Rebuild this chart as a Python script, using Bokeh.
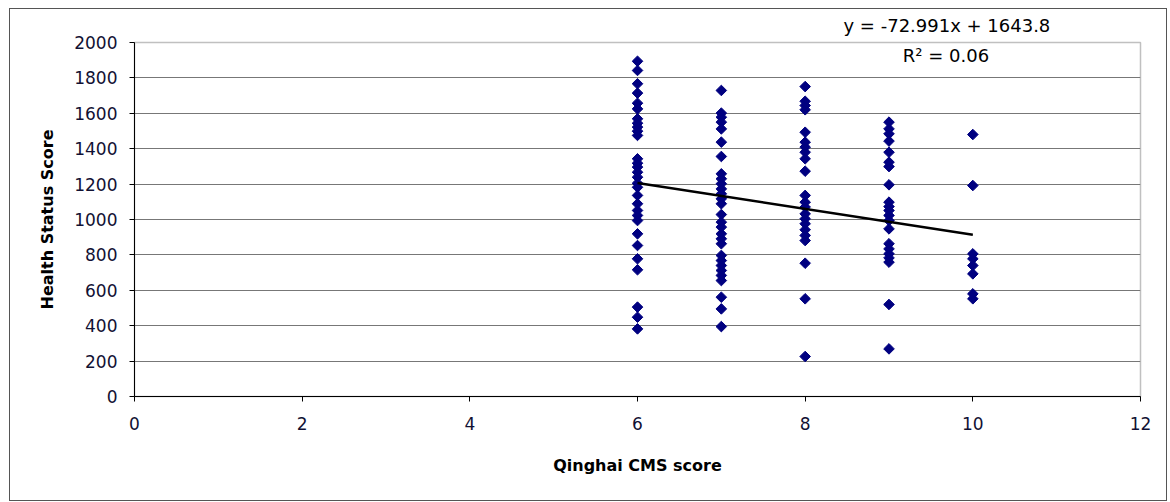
import math
from bokeh.plotting import figure
from bokeh.models import Range1d, SingleIntervalTicker, Label, ColumnDataSource
from bokeh.embed import file_html
from bokeh.resources import INLINE

# Health status scores per Qinghai CMS score
scores_6 = [1894, 1842, 1767, 1714, 1657, 1625, 1569, 1544, 1522, 1499, 1475,
            1343, 1318, 1296, 1267, 1239, 1205, 1182, 1136, 1089, 1051, 1023,
            994, 919, 853, 778, 716, 505, 448, 382]
scores_7 = [1729, 1601, 1578, 1550, 1512, 1437, 1356, 1258, 1230, 1202, 1173,
            1145, 1117, 1089, 1028, 985, 957, 919, 891, 863, 797, 768, 740,
            712, 684, 655, 561, 495, 395]
scores_8 = [1751, 1668, 1644, 1620, 1493, 1437, 1409, 1380, 1343, 1273, 1136,
            1098, 1070, 1032, 1004, 976, 942, 910, 881, 753, 552, 226]
scores_9 = [1550, 1512, 1484, 1443, 1380, 1324, 1299, 1196, 1098, 1073, 1051,
            1023, 994, 947, 863, 834, 806, 783, 759, 520, 269]
scores_10 = [1480, 1192, 806, 778, 740, 693, 580, 552]

cms_levels = [6, 7, 8, 9, 10]
groups = [scores_6, scores_7, scores_8, scores_9, scores_10]

slope = -72.991
intercept = 1643.8
r_squared = 0.06
trend_x = [6, 10]

xs, ys = [], []
for lvl, g in zip(cms_levels, groups):
    xs += [lvl] * len(g)
    ys += g
src = ColumnDataSource(dict(x=xs, y=ys))

FONT = "DejaVu Sans"

p = figure(width=1158, height=493, output_backend="svg", toolbar_location=None,
           x_range=Range1d(0, 12), y_range=Range1d(0, 2000),
           min_border_left=124, min_border_right=28, min_border_top=33,
           min_border_bottom=106,
           title=f"y = {slope}x + {intercept}")
p.styles = {"border": "1px solid #555555", "margin-left": "9px", "margin-top": "8px"}
p.outline_line_color = "#c0c0c0"
p.outline_line_width = 1.5

p.title.text_font = FONT
p.title.text_font_size = "18px"
p.title.text_font_style = "normal"
p.title.text_color = "black"
p.title.align = "left"
p.title.vertical_align = "top"
p.title.offset = 709
p.title.standoff = 9

p.xgrid.grid_line_color = None
p.ygrid.grid_line_color = "#777777"
p.ygrid.grid_line_width = 1.2

p.xaxis.ticker = SingleIntervalTicker(interval=2)
p.yaxis.ticker = SingleIntervalTicker(interval=200)
for ax in (p.xaxis, p.yaxis):
    ax.axis_line_color = "black"
    ax.major_tick_line_color = "black"
    ax.major_tick_in = 0
    ax.major_tick_out = 5
    ax.minor_tick_line_color = None
    ax.major_label_text_font = FONT
    ax.major_label_text_font_size = "17px"
    ax.major_label_text_color = "#111133"
    ax.axis_label_text_font = FONT
    ax.axis_label_text_font_size = "16px"
    ax.axis_label_text_font_style = "bold"
    ax.axis_label_text_color = "black"
p.xaxis.major_label_standoff = 15
p.yaxis.major_label_standoff = 12
p.xaxis.axis_label = "Qinghai CMS score"
p.xaxis.axis_label_standoff = 23
p.yaxis.axis_label = "Health Status Score"
p.yaxis.axis_label_standoff = 14

p.scatter("x", "y", source=src, marker="square", size=7.5, angle=math.pi / 4,
          fill_color="#000080", line_color="#000080")

trend_y = [slope * x + intercept for x in trend_x]
p.line(trend_x, trend_y, line_color="black", line_width=2.5)

r2 = Label(x=9.68, y=1927, text=f"R\u00b2 = {r_squared:.2f}",
           text_font=FONT, text_font_size="18px",
           text_align="center", text_baseline="middle", text_color="black")
p.add_layout(r2)

open("out.html", "w").write(file_html(p, INLINE))
